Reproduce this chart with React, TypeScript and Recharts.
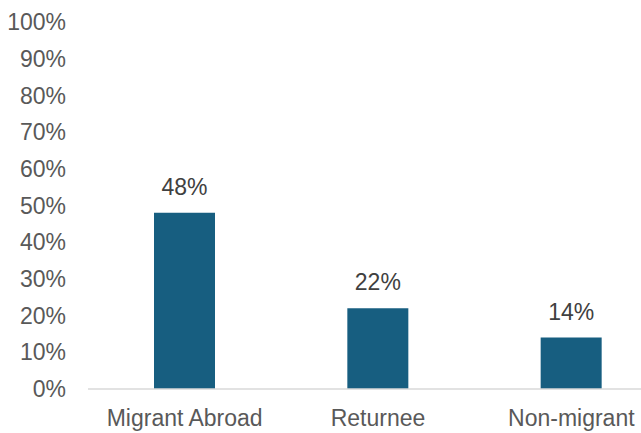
import { BarChart, Bar, XAxis, YAxis, LabelList } from 'recharts';

const categories = ['Migrant Abroad', 'Returnee', 'Non-migrant'];
const shares = [48, 22, 14];
const yTicks = [0, 10, 20, 30, 40, 50, 60, 70, 80, 90, 100];

const data = categories.map((name, i) => ({ name, value: shares[i] }));

const FONT = '"Liberation Sans", Arial, sans-serif';
const TEXT = '#595959';

export default function App() {
  return (
    <div style={{ position: 'absolute', left: 0, top: 0, width: 641, height: 433, overflow: 'hidden', background: '#fff' }}>
      <BarChart
        width={668}
        height={433}
        data={data}
        margin={{ top: 22, right: 0, left: 0, bottom: 0 }}
        style={{ fontFamily: FONT }}
      >
        <XAxis
          dataKey="name"
          height={44}
          tickLine={false}
          tickSize={0}
          tickMargin={21}
          axisLine={{ stroke: '#d9d9d9', strokeWidth: 1.5 }}
          tick={{ fill: TEXT, fontSize: 23, fontFamily: FONT }}
          interval={0}
        />
        <YAxis
          width={88}
          domain={[0, 100]}
          ticks={yTicks}
          tickFormatter={(v) => `${v}%`}
          axisLine={false}
          tickLine={false}
          tickSize={0}
          tickMargin={22}
          tick={{ fill: TEXT, fontSize: 23, fontFamily: FONT }}
        />
        <Bar dataKey="value" fill="#175e80" barSize={61} isAnimationActive={false}>
          <LabelList
            dataKey="value"
            position="top"
            offset={18}
            formatter={(v) => `${v}%`}
            style={{ fill: '#404040', fontSize: 23, fontFamily: FONT }}
          />
        </Bar>
      </BarChart>
    </div>
  );
}
